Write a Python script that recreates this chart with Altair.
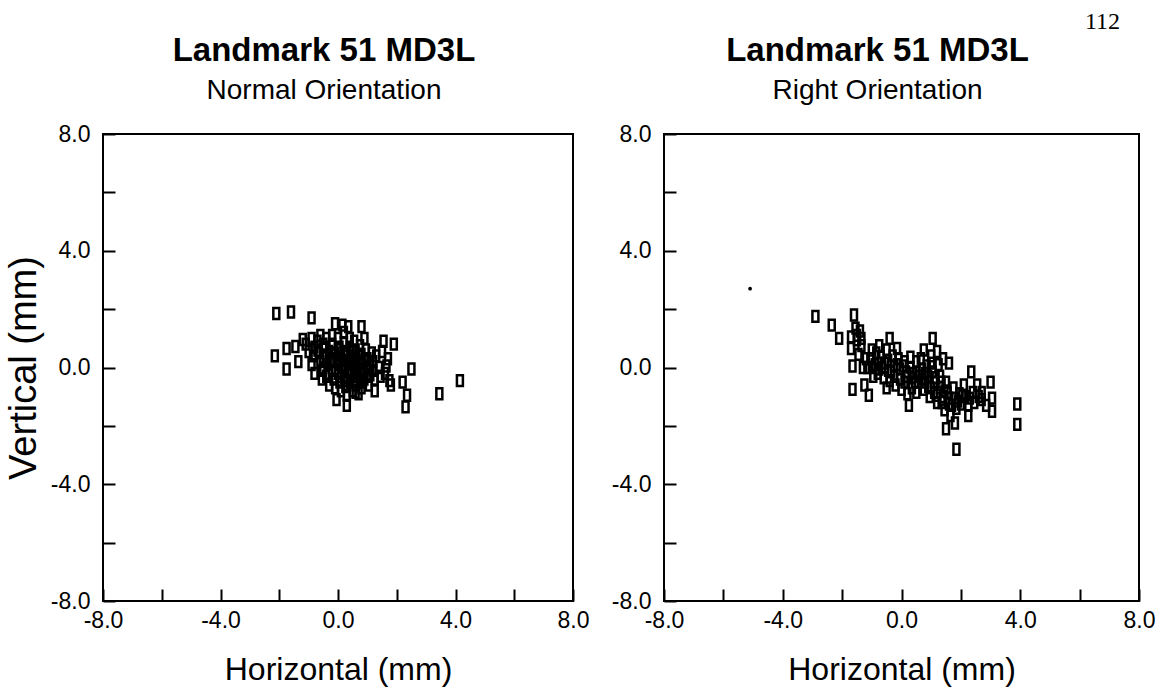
import altair as alt
import pandas as pd

# ---------------- data (mm) ----------------
left_x = [-2.1, -1.6, -0.9, -0.1, 0.35, 0.8, -1.2, -2.15, -1.75, -1.45, -1.75, -1.35,
          -0.55, -0.05, 0.3, 1.55, 1.9, 1.7, 2.5, 2.2, 2.35, 2.3, 3.45, 4.15, 1.25, 1.8,
          -0.9, -0.8, -0.85, -0.9, -0.8, -0.7, -0.6, -0.65, -0.6, -0.55,
          -0.4, -0.45, -0.4, -0.35, -0.4, -0.3, -0.2, -0.2, -0.15, -0.2,
          -0.1, -0.15, -0.1, 0.0, 0.05, 0.0, 0.05, 0.0, 0.05, 0.1,
          0.2, 0.2, 0.25, 0.2, 0.25, 0.2, 0.25, 0.3, 0.4, 0.4,
          0.45, 0.4, 0.45, 0.4, 0.5, 0.55, 0.6, 0.6, 0.6, 0.65,
          0.6, 0.7, 0.75, 0.8, 0.8, 0.8, 0.85, 0.8, 0.95, 1.0,
          1.0, 1.0, 1.05, 1.15, 1.2, 1.2, 1.25, 1.4, 1.45, 1.6,
          1.5, -1.0, -1.1, 0.9, 0.15,
          -0.7, -0.5, -0.3, -0.25, -0.05, 0.1, 0.15, 0.1, 0.3, 0.35, 0.35,
          0.3, 0.5, 0.5, 0.55, 0.55, 0.7, 0.7, 0.7, 0.75, 0.9, 0.9, 0.9,
          1.1, 1.1, -0.5, -0.5, -0.3, 0.0, 0.6, 1.3, 1.65, 1.75]
left_y = [1.85, 1.9, 1.7, 1.5, 1.4, 1.4, 0.96, 0.4, 0.65, 0.72, -0.05, 0.2,
          -0.4, -1.1, -1.3, 0.9, 0.8, 0.3, -0.05, -0.5, -0.95, -1.35, -0.9, -0.45, -0.8, -0.6,
          1.0, 0.7, 0.4, 0.1, -0.2, 0.9, 1.1, 0.5, 0.2, -0.1,
          1.0, 0.7, 0.4, 0.1, -0.3, -0.6, 1.1, 0.8, 0.5, 0.2,
          -0.1, -0.4, -0.7, 1.0, 0.7, 0.4, 0.1, -0.2, -0.5, -0.8,
          1.2, 0.85, 0.55, 0.25, -0.05, -0.35, -0.65, -0.95, 1.0, 0.7,
          0.4, 0.1, -0.2, -0.5, -0.8, 0.9, 0.6, 0.3, 0.0, -0.3,
          -0.6, -0.9, 0.75, 0.45, 0.15, -0.15, -0.45, -0.7, 0.6, 0.3,
          0.0, -0.3, -0.6, 0.5, 0.2, -0.1, -0.4, 0.0, -0.3, -0.2,
          0.55, 0.55, 0.8, 1.0, 1.45,
          0.6, 0.8, 0.55, 0.25, 0.3, 0.5, 0.0, -0.3, 0.4, 0.15, -0.15,
          -0.45, 0.55, 0.25, -0.05, -0.4, 0.45, 0.15, -0.15, -0.5, 0.25, -0.05, -0.4,
          0.05, -0.25, 0.35, 0.0, -0.2, 0.6, -0.85, 0.4, 0.05, -0.45]

right_x = [-2.9, -2.35, -2.1, -1.6, -1.7, -1.4, -1.35, -1.7, -1.65, -1.3, -1.65, -1.25,
           -1.1, -0.75, -0.4, -0.5, 0.25, 1.05, 0.75, 1.6, 2.35, 3.0, 2.7, 3.05, 3.05,
           3.9, 3.9, 1.85, 1.5, 1.8, 2.25, 1.35, -1.55, -1.5, -1.45,
           -1.0, -1.05, -1.0, -0.95, -0.85, -0.8, -0.8, -0.7, -0.65, -0.6,
           -0.5, -0.45, -0.45, -0.4, -0.3, -0.25, -0.25, -0.2, -0.1, -0.05,
           -0.05, 0.0, 0.1, 0.15, 0.1, 0.2, 0.3, 0.3, 0.35, 0.35,
           0.5, 0.5, 0.55, 0.5, 0.65, 0.7, 0.7, 0.75, 0.85, 0.9,
           0.9, 0.95, 1.0, 1.05, 1.1, 1.1, 1.2, 1.25, 1.3, 1.3,
           1.4, 1.45, 1.5, 1.55, 1.6, 1.65, 1.75, 1.8, 1.85, 1.95,
           2.0, 2.1, 2.15, 2.25, 2.4, 2.45, 2.6, 2.55, 1.4, -0.15,
           -1.2, -1.15, -0.9, -0.75, -0.55, -0.35, -0.15, 0.05, 0.2, 0.4,
           0.45, 0.6, 0.8, 0.8, 1.0, 1.15, 1.2, 1.35, 1.45, 1.6,
           1.7, 1.9, 2.05, 2.3, 2.7, 2.85, -1.35, -1.5, 1.2, 1.0]
right_y = [1.75, 1.45, 1.0, 1.8, 1.05, 1.25, 0.75, 0.65, 0.05, 0.0, -0.75, -0.6,
           -0.95, 0.75, 1.0, -0.7, -1.3, 1.0, 0.6, 0.15, -0.15, -0.5, -0.85, -1.05, -1.5,
           -1.25, -1.95, -2.8, -2.1, -1.9, -1.65, -1.2, 1.35, 0.95, 0.45,
           0.6, 0.3, 0.0, -0.3, 0.5, 0.15, -0.2, 0.35, 0.0, -0.35,
           0.6, 0.25, -0.1, -0.45, 0.4, 0.05, -0.3, -0.6, 0.3, -0.05,
           -0.4, -0.75, 0.2, -0.15, -0.5, -0.9, 0.35, 0.0, -0.35, -0.7,
           0.2, -0.15, -0.5, -0.85, 0.3, -0.05, -0.4, -0.75, 0.05, -0.3,
           -0.65, -1.0, 0.4, -0.15, -0.5, -0.85, -1.2, 0.1, -0.3, -0.7,
           -1.0, -1.45, -0.5, -0.85, -1.25, -1.65, -0.7, -1.05, -1.4, -0.9,
           -1.25, -0.6, -1.0, -1.3, -0.85, -1.2, -1.0, -0.6, 0.3, 0.65,
           0.3, 0.0, 0.1, -0.05, 0.15, -0.15, 0.1, 0.05, -0.3, -0.2,
           -0.5, -0.3, -0.5, -0.2, -0.7, -0.35, -0.95, -0.5, -0.8, -1.05,
           -1.3, -1.15, -0.95, -1.05, -1.1, -1.3, 1.0, 1.1, 0.55, 0.15]

stray_x = [-5.1]
stray_y = [2.7]

tick_values = [-8, -6, -4, -2, 0, 2, 4, 6, 8]
page_number = "112"

FONT = "Liberation Sans"
label_expr = ("datum.value % 4 == 0 ? (datum.value < 0 ? '-' : '') + "
              "format(abs(datum.value), '.1f') : ''")
rect_shape = "M-0.55,-1L0.55,-1L0.55,1L-0.55,1Z"


def axis(label_pad, title_pad, title_size):
    return alt.Axis(values=tick_values, labelExpr=label_expr, offset=-12,
                    tickSize=12, tickColor="black", tickWidth=2, domain=False,
                    grid=False, labelFont=FONT, labelFontSize=23, labelColor="black",
                    labelPadding=label_pad, labelOverlap=False, labelFlush=False,
                    titleFont=FONT, titleFontSize=title_size, titleFontWeight="normal",
                    titleColor="black", titlePadding=title_pad)


scale = alt.Scale(domain=[-8, 8], nice=False, zero=False)


def panel(xs, ys, subtitle, ytitle, dx, width):
    df = pd.DataFrame({"x": xs, "y": ys})
    pts = alt.Chart(df).mark_point(shape=rect_shape, filled=False, stroke="black",
                                   strokeWidth=2.5, size=118, opacity=1).encode(
        x=alt.X("x:Q", scale=scale, axis=axis(8, 22, 32), title="Horizontal (mm)"),
        y=alt.Y("y:Q", scale=scale, axis=axis(13, 7, 38), title=ytitle),
    )
    props = dict(
        title=alt.TitleParams(text="Landmark 51 MD3L", subtitle=subtitle, font=FONT,
                              fontSize=33, fontWeight="bold", subtitleFont=FONT,
                              subtitleFontSize=28, subtitlePadding=9, color="black",
                              subtitleColor="black", anchor="middle", offset=18, dx=dx),
        width=width, height=467)
    return pts, props


lp, lprops = panel(left_x, left_y, "Normal Orientation", "Vertical (mm)", -14, 470)
left = lp.properties(**lprops)

rp, rprops = panel(right_x, right_y, "Right Orientation", None, -24, 475)
stray = alt.Chart(pd.DataFrame({"x": stray_x, "y": stray_y})).mark_circle(
    size=14, color="black", opacity=1).encode(x=alt.X("x:Q", scale=scale),
                                               y=alt.Y("y:Q", scale=scale))
right = alt.layer(rp, stray).properties(**rprops)

chart = alt.hconcat(left, right, spacing=20).configure_view(
    stroke="black", strokeWidth=2).properties(
    title=alt.TitleParams(text=page_number, anchor="end", font="Liberation Serif",
                          fontSize=24, fontWeight="normal", color="black",
                          offset=0, dx=-36),
    padding={"left": 4, "top": 10, "right": 5, "bottom": 5}, background="white")

chart.save("out.html", embed_options={"renderer": "svg", "actions": False})
